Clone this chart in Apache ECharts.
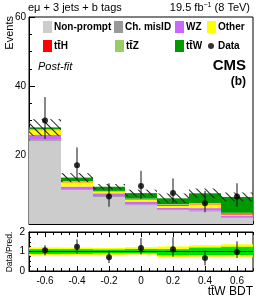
<!DOCTYPE html>
<html><head><meta charset="utf-8">
<script src="https://cdn.jsdelivr.net/npm/echarts@6/dist/echarts.min.js"></script>
<style>html,body{margin:0;padding:0;background:#fff}#c{width:266px;height:300px}</style>
</head><body><div id="c"></div>
<script>
// ---- data ----
const bins = ['-0.6','-0.4','-0.2','0','0.2','0.4','0.6'];
const xTickValues = [-0.6,-0.4,-0.2,0,0.2,0.4,0.6];
const xMinorTickValues = [-0.7,-0.65,-0.55,-0.5,-0.45,-0.35,-0.3,-0.25,-0.15,-0.1,-0.05,0.05,0.1,0.15,0.25,0.3,0.35,0.45,0.5,0.55,0.65,0.7];
const nonPrompt = [24.1, 9.8, 7.8, 5.4, 4.0, 3.6, 1.8];
const chMisID   = [0.3, 0.3, 0.3, 0.3, 0.3, 0.3, 0.25];
const wz        = [1.4, 0.75, 0.8, 0.8, 0.4, 0.7, 0.4];
const other     = [1.4, 1.25, 0.45, 0.5, 0.6, 1.1, 0.3];
const ttH       = [0.1, 0.15, 0.1, 0.15, 0.25, 0.2, 0.35];
const ttZ       = [0.2, 0.2, 0.15, 0.2, 0.2, 0.2, 0.15];
const ttW       = [0.5, 1.0, 1.2, 1.6, 1.7, 2.8, 4.6];
const bkgUnc    = [2.4, 1.3, 0.8, 1.0, 1.4, 1.4, 1.3];
const dataVal   = [30, 17, 8, 11, 9, 6, 8];
const dataLo    = [24.6, 12.8, 5.0, 7.3, 6.0, 3.4, 5.0];
const dataHi    = [36.8, 22.2, 11.8, 15.4, 13.2, 9.6, 11.8];
const ratioVal  = [1.07, 1.24, 0.70, 1.18, 1.12, 0.67, 0.98];
const ratioLo   = [0.80, 0.90, 0.41, 0.85, 0.73, 0.29, 0.67];
const ratioHi   = [1.32, 1.62, 1.04, 1.69, 1.73, 1.04, 1.52];
const band2Lo   = [0.79, 0.80, 0.82, 0.84, 0.70, 0.73, 0.73];
const band2Hi   = [1.21, 1.20, 1.18, 1.22, 1.26, 1.32, 1.37];
const band1Lo   = [0.87, 0.88, 0.90, 0.90, 0.80, 0.82, 0.82];
const band1Hi   = [1.12, 1.12, 1.10, 1.13, 1.12, 1.20, 1.24];
const yTicksMain = [0, 20, 40, 60];
const yTicksRatio = [0, 1, 2];

// ---- build ----
const FONT = 'Liberation Sans, Arial, Helvetica, sans-serif';
const total = bins.map((_, i) => nonPrompt[i] + chMisID[i] + wz[i] + other[i] + ttH[i] + ttZ[i] + ttW[i]);
const uncBase = total.map((t, i) => t - bkgUnc[i]);
const uncH = bkgUnc.map(u => 2 * u);

const names = ['Non-prompt','Ch. misID','WZ','Other','tt\u0304H','tt\u0304Z','tt\u0304W'];
const procVals = [nonPrompt, chMisID, wz, other, ttH, ttZ, ttW];
const procColors = ['#cccccc', '#999999', '#cc66ff', '#ffff00', '#ff0000', '#99cc66', '#009900'];

const series = [];
names.forEach((n, k) => {
  series.push({
    type: 'bar', name: n, xAxisIndex: 0, yAxisIndex: 0, stack: 'mc',
    data: procVals[k], barWidth: '100%', barGap: '-100%', barCategoryGap: '0%',
    itemStyle: { color: procColors[k] }, animation: false, silent: true
  });
});
series.push({ type: 'bar', name: 'uncBase', xAxisIndex: 0, yAxisIndex: 0, stack: 'unc',
  data: uncBase, barWidth: '100%', barGap: '-100%', itemStyle: { color: 'rgba(0,0,0,0)' }, animation: false, silent: true });
series.push({ type: 'bar', name: 'unc', xAxisIndex: 0, yAxisIndex: 0, stack: 'unc',
  data: uncH, barWidth: '100%', barGap: '-100%',
  itemStyle: { color: 'rgba(0,0,0,0)', decal: { symbol: 'rect', symbolSize: 1, dashArrayX: [[1, 0]], dashArrayY: [1, 5], rotation: Math.PI / 4, color: '#222', backgroundColor: 'rgba(0,0,0,0)' } },
  animation: false, silent: true });

function errRender(params, api) {
  const a = api.coord([api.value(0), api.value(1)]);
  const b = api.coord([api.value(0), api.value(2)]);
  return { type: 'line', shape: { x1: a[0], y1: a[1], x2: b[0], y2: b[1] }, style: { stroke: '#111', lineWidth: 1 } };
}
series.push({ type: 'custom', name: 'dataErr', xAxisIndex: 0, yAxisIndex: 0, renderItem: errRender,
  data: bins.map((_, i) => [i, dataLo[i], dataHi[i]]), encode: { x: 0, y: [1, 2] }, animation: false, silent: true, z: 5 });
series.push({ type: 'scatter', name: 'Data', xAxisIndex: 0, yAxisIndex: 0, data: dataVal,
  symbol: 'circle', symbolSize: 6, itemStyle: { color: '#000' }, animation: false, silent: true, z: 6 });

// ratio panel
series.push({ type: 'bar', name: 'yb', xAxisIndex: 3, yAxisIndex: 1, stack: 'y2', data: band2Lo, barWidth: '100%', barGap: '-100%', barCategoryGap: '0%', itemStyle: { color: 'rgba(0,0,0,0)' }, animation: false, silent: true });
series.push({ type: 'bar', name: 'yband', xAxisIndex: 3, yAxisIndex: 1, stack: 'y2', data: band2Hi.map((h, i) => h - band2Lo[i]), barWidth: '100%', barGap: '-100%', itemStyle: { color: '#ffff00' }, animation: false, silent: true });
series.push({ type: 'bar', name: 'gb', xAxisIndex: 3, yAxisIndex: 1, stack: 'y1', data: band1Lo, barWidth: '100%', barGap: '-100%', itemStyle: { color: 'rgba(0,0,0,0)' }, animation: false, silent: true });
series.push({ type: 'bar', name: 'gband', xAxisIndex: 3, yAxisIndex: 1, stack: 'y1', data: band1Hi.map((h, i) => h - band1Lo[i]), barWidth: '100%', barGap: '-100%', itemStyle: { color: '#00dd00' }, animation: false, silent: true,
  markLine: { silent: true, symbol: 'none', label: { show: false }, lineStyle: { color: '#000', width: 1, type: 'solid' }, data: [{ yAxis: 1 }], animation: false } });
series.push({ type: 'custom', name: 'ratioErr', xAxisIndex: 3, yAxisIndex: 1, renderItem: errRender,
  data: bins.map((_, i) => [i, ratioLo[i], ratioHi[i]]), encode: { x: 0, y: [1, 2] }, animation: false, silent: true, z: 5 });
series.push({ type: 'scatter', name: 'RatioPts', xAxisIndex: 3, yAxisIndex: 1, data: ratioVal,
  symbol: 'circle', symbolSize: 6, itemStyle: { color: '#000' }, animation: false, silent: true, z: 6 });

function valAxis(grid, pos, opts) {
  return Object.assign({
    type: 'value', gridIndex: grid, position: pos, min: -0.7, max: 0.7,
    axisLine: { show: true, onZero: false, lineStyle: { color: '#000', width: 1 } },
    splitLine: { show: false }, axisLabel: { show: false },
    axisTick: { show: true, inside: true, length: 5, customValues: xTickValues, lineStyle: { color: '#000' } }
  }, opts);
}
const minorTick = { show: true, inside: true, length: 3, customValues: xMinorTickValues, lineStyle: { color: '#000' } };
const noLine = { show: false, onZero: false };

const legendPos = [
  ['Non-prompt', 43, 21], ['Ch. misID', 114, 21], ['WZ', 175, 21], ['Other', 207, 21],
  ['tt\u0304H', 43, 40], ['tt\u0304Z', 115, 40], ['tt\u0304W', 175, 40]
];
const legends = legendPos.map(l => ({
  data: [l[0]], left: l[1], top: l[2], itemWidth: 9, itemHeight: 12, icon: 'rect', padding: 0,
  textStyle: { fontFamily: FONT, fontSize: 10, fontWeight: 'bold', color: '#000', padding: [0, 0, 0, -3] },
  selectedMode: false
}));
legends.push({ data: [{ name: 'Data', icon: 'circle' }], left: 208, top: 41, itemWidth: 6, itemHeight: 6, padding: 0,
  textStyle: { fontFamily: FONT, fontSize: 10, fontWeight: 'bold', color: '#000', padding: [0, 0, 0, -1] }, selectedMode: false });

const option = {
  animation: false,
  grid: [
    { left: 29, right: 13, top: 17, height: 207, show: true, borderColor: '#000', borderWidth: 1, backgroundColor: 'transparent' },
    { left: 29, right: 13, top: 232, height: 39, show: true, borderColor: '#000', borderWidth: 1, backgroundColor: 'transparent' }
  ],
  legend: legends,
  xAxis: [
    { type: 'category', gridIndex: 0, data: bins, show: false, boundaryGap: true, axisLine: noLine },
    valAxis(0, 'bottom', {}),
    valAxis(0, 'bottom', { axisLine: noLine, axisTick: minorTick }),
    { type: 'category', gridIndex: 1, data: bins, show: false, boundaryGap: true, axisLine: noLine },
    valAxis(1, 'bottom', { axisLabel: { show: true, customValues: xTickValues, fontFamily: FONT, fontSize: 10, color: '#000', margin: 5,
      formatter: v => (Math.abs(v) < 1e-9 ? '0' : String(Math.round(v * 10) / 10)) } }),
    valAxis(1, 'bottom', { axisLine: noLine, axisTick: minorTick }),
    valAxis(1, 'top', {}),
    valAxis(1, 'top', { axisLine: noLine, axisTick: minorTick })
  ],
  yAxis: [
    { type: 'value', gridIndex: 0, min: yTicksMain[0], max: yTicksMain[yTicksMain.length - 1], interval: 20,
      axisLine: { show: true, onZero: false, lineStyle: { color: '#000' } }, splitLine: { show: false },
      axisTick: { show: true, inside: true, length: 6, lineStyle: { color: '#000' } },
      minorTick: { show: true, splitNumber: 4, length: 3, lineStyle: { color: '#000' } },
      axisLabel: { showMinLabel: false, fontFamily: FONT, fontSize: 10, color: '#000', margin: 3 } },
    { type: 'value', gridIndex: 1, min: yTicksRatio[0], max: yTicksRatio[yTicksRatio.length - 1], interval: 1,
      axisLine: { show: true, onZero: false, lineStyle: { color: '#000' } }, splitLine: { show: false },
      axisTick: { show: true, inside: true, length: 5, lineStyle: { color: '#000' } },
      minorTick: { show: true, splitNumber: 4, length: 2, lineStyle: { color: '#000' } },
      axisLabel: { fontFamily: FONT, fontSize: 10, color: '#000', margin: 4 } }
  ],
  graphic: [
    { type: 'text', left: 28, top: 2, style: { text: 'e\u03bc + 3 jets + b tags', font: '11px ' + FONT, fill: '#000' } },
    { type: 'text', x: 250, y: 8, style: { text: '19.5 fb{s|\u22121} (8 TeV)', align: 'right', verticalAlign: 'middle', font: '11px ' + FONT, fill: '#000',
      rich: { s: { fontSize: 7, fontFamily: FONT, padding: [0, 0, 6, 0] } } } },
    { type: 'text', x: 10, y: 16, rotation: Math.PI / 2, style: { text: 'Events', align: 'right', verticalAlign: 'middle', font: '11px ' + FONT, fill: '#000' } },
    { type: 'text', x: 10, y: 252, rotation: Math.PI / 2, style: { text: 'Data/Pred.', align: 'center', verticalAlign: 'middle', font: '8.5px ' + FONT, fill: '#000' } },
    { type: 'text', x: 253, y: 292, style: { text: 'tt\u0304W BDT', align: 'right', verticalAlign: 'middle', font: '12px ' + FONT, fill: '#000' } },
    { type: 'text', x: 38, y: 67, style: { text: 'Post-fit', align: 'left', verticalAlign: 'middle', font: 'italic 11px ' + FONT, fill: '#000' } },
    { type: 'text', x: 246, y: 66, style: { text: 'CMS', align: 'right', verticalAlign: 'middle', font: 'bold 15px ' + FONT, fill: '#000' } },
    { type: 'text', x: 246, y: 82, style: { text: '(b)', align: 'right', verticalAlign: 'middle', font: 'bold 12px ' + FONT, fill: '#000' } }
  ],
  series: series
};
const chart = echarts.init(document.getElementById('c'), null, { renderer: 'canvas' });
chart.setOption(option);
</script></body></html>
